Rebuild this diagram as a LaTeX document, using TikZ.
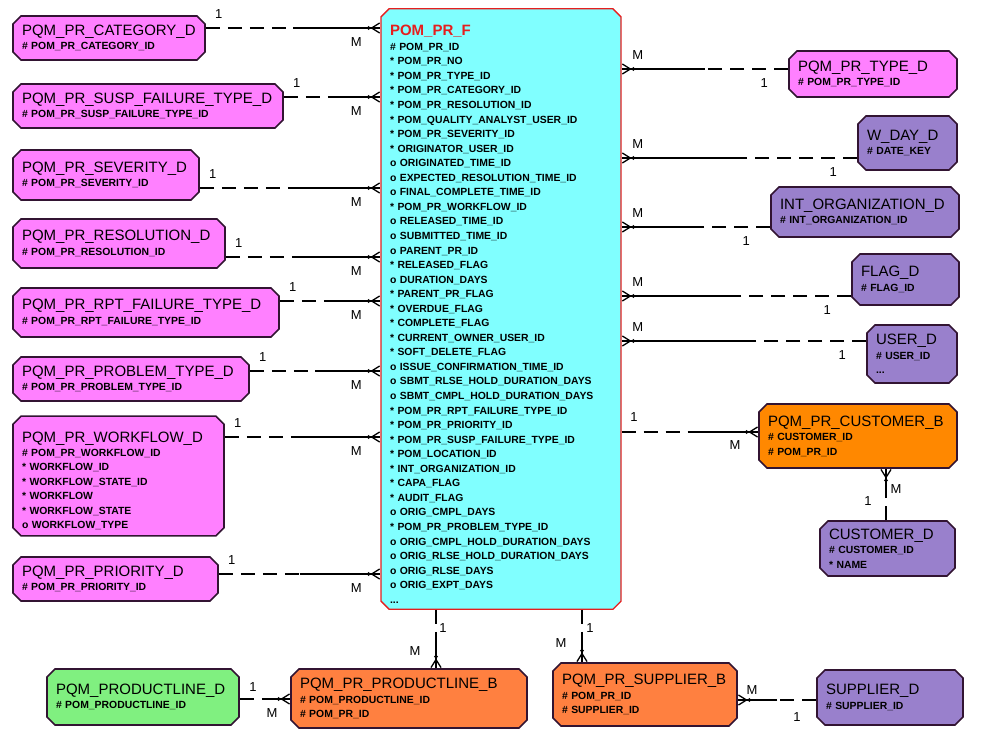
\documentclass[tikz,border=0pt]{standalone}
\usepackage{xcolor}
\usepackage{fontspec}
\setmainfont{Liberation Sans}
\usepackage{tikz}
\usetikzlibrary{shapes.misc}
\usetikzlibrary{arrows.meta}
\usetikzlibrary{calc}

\definecolor{dimpink}{RGB}{255,128,255}
\definecolor{factcyan}{RGB}{128,255,255}
\definecolor{dimpurple}{RGB}{153,128,204}
\definecolor{bridgeorange}{RGB}{255,128,64}
\definecolor{custorange}{RGB}{255,136,0}
\definecolor{dimgreen}{RGB}{128,240,128}
\definecolor{edgedark}{RGB}{50,20,50}
\definecolor{factred}{RGB}{230,30,30}

\newcommand{\tabname}[1]{{\fontsize{15}{14.4}\selectfont\mdseries #1}}
\newcommand{\facttitle}[1]{{\fontsize{15}{14.5}\selectfont\color{factred}#1}}

\begin{document}
\begin{tikzpicture}[x=1pt, y=-1pt,
    entity/.style={chamfered rectangle, chamfered rectangle xsep=4pt, chamfered rectangle ysep=4pt,
        draw=edgedark, line width=1.6pt, inner xsep=5pt, inner ysep=2pt, align=left,
        font=\fontsize{10.4}{14.4}\selectfont\bfseries},
    dimtab/.style={entity, fill=dimpink},
    lookup/.style={entity, fill=dimpurple},
    bridge/.style={entity, fill=bridgeorange},
    oneside/.style={line width=1.3pt, dash pattern=on 14pt off 8pt},
    manyside/.style={line width=1.3pt,
        postaction={draw, -{Circle[length=3.5pt] Straight Barb[reversed, length=8pt, width=10pt]}}},
    card/.style={font=\fontsize{13}{13}\selectfont, inner sep=0pt}]
    \useasboundingbox (0,0) rectangle (990,742);

    % Fact table
    \node[entity, fill=factcyan, draw=factred, line width=1.4pt, minimum width=240, minimum height=598,
        text width=222, text height=21, font=\fontsize{10.4}{14.55}\selectfont\bfseries] (f) at (501,309)
        {\facttitle{POM\_PR\_F}\\
        \# POM\_PR\_ID\\
        {*} POM\_PR\_NO\\
        {*} POM\_PR\_TYPE\_ID\\
        {*} POM\_PR\_CATEGORY\_ID\\
        {*} POM\_PR\_RESOLUTION\_ID\\
        {*} POM\_QUALITY\_ANALYST\_USER\_ID\\
        {*} POM\_PR\_SEVERITY\_ID\\
        {*} ORIGINATOR\_USER\_ID\\
        o ORIGINATED\_TIME\_ID\\
        o EXPECTED\_RESOLUTION\_TIME\_ID\\
        o FINAL\_COMPLETE\_TIME\_ID\\
        {*} POM\_PR\_WORKFLOW\_ID\\
        o RELEASED\_TIME\_ID\\
        o SUBMITTED\_TIME\_ID\\
        o PARENT\_PR\_ID\\
        {*} RELEASED\_FLAG\\
        o DURATION\_DAYS\\
        {*} PARENT\_PR\_FLAG\\
        {*} OVERDUE\_FLAG\\
        {*} COMPLETE\_FLAG\\
        {*} CURRENT\_OWNER\_USER\_ID\\
        {*} SOFT\_DELETE\_FLAG\\
        o ISSUE\_CONFIRMATION\_TIME\_ID\\
        o SBMT\_RLSE\_HOLD\_DURATION\_DAYS\\
        o SBMT\_CMPL\_HOLD\_DURATION\_DAYS\\
        {*} POM\_PR\_RPT\_FAILURE\_TYPE\_ID\\
        {*} POM\_PR\_PRIORITY\_ID\\
        {*} POM\_PR\_SUSP\_FAILURE\_TYPE\_ID\\
        {*} POM\_LOCATION\_ID\\
        {*} INT\_ORGANIZATION\_ID\\
        {*} CAPA\_FLAG\\
        {*} AUDIT\_FLAG\\
        o ORIG\_CMPL\_DAYS\\
        {*} POM\_PR\_PROBLEM\_TYPE\_ID\\
        o ORIG\_CMPL\_HOLD\_DURATION\_DAYS\\
        o ORIG\_RLSE\_HOLD\_DURATION\_DAYS\\
        o ORIG\_RLSE\_DAYS\\
        o ORIG\_EXPT\_DAYS\\
        ...};

    % Left dimensions
    \node[dimtab, minimum width=192, minimum height=44, text width=174] (cat) at (109,38)
        {\tabname{PQM\_PR\_CATEGORY\_D}\\ \# POM\_PR\_CATEGORY\_ID};
    \node[dimtab, minimum width=270, minimum height=44, text width=252] (susp) at (148,106)
        {\tabname{PQM\_PR\_SUSP\_FAILURE\_TYPE\_D}\\ \# POM\_PR\_SUSP\_FAILURE\_TYPE\_ID};
    \node[dimtab, minimum width=186, minimum height=50, text width=168] (sev) at (106,175)
        {\tabname{PQM\_PR\_SEVERITY\_D}\\ \# POM\_PR\_SEVERITY\_ID};
    \node[dimtab, minimum width=212, minimum height=49, text width=194] (res) at (119,243.5)
        {\tabname{PQM\_PR\_RESOLUTION\_D}\\ \# POM\_PR\_RESOLUTION\_ID};
    \node[dimtab, minimum width=266, minimum height=49, text width=248] (rpt) at (146,312.5)
        {\tabname{PQM\_PR\_RPT\_FAILURE\_TYPE\_D}\\ \# POM\_PR\_RPT\_FAILURE\_TYPE\_ID};
    \node[dimtab, minimum width=236, minimum height=44, text width=218] (prob) at (131,379)
        {\tabname{PQM\_PR\_PROBLEM\_TYPE\_D}\\ \# POM\_PR\_PROBLEM\_TYPE\_ID};
    \node[dimtab, minimum width=211, minimum height=116, text width=193, text height=20] (wf) at (118.5,476)
        {\tabname{PQM\_PR\_WORKFLOW\_D}\\ \# POM\_PR\_WORKFLOW\_ID\\ {*} WORKFLOW\_ID\\
        {*} WORKFLOW\_STATE\_ID\\ {*} WORKFLOW\\ {*} WORKFLOW\_STATE\\ o WORKFLOW\_TYPE};
    \node[dimtab, minimum width=205, minimum height=44, text width=187] (prio) at (115.5,579)
        {\tabname{PQM\_PR\_PRIORITY\_D}\\ \# POM\_PR\_PRIORITY\_ID};

    % Right dimensions
    \node[dimtab, minimum width=168, minimum height=46, text width=150] (type) at (873,74)
        {\tabname{PQM\_PR\_TYPE\_D}\\ \# POM\_PR\_TYPE\_ID};
    \node[lookup, minimum width=99, minimum height=54, text width=81] (wday) at (907.5,143)
        {\tabname{W\_DAY\_D}\\ \# DATE\_KEY};
    \node[lookup, minimum width=188, minimum height=50, text width=170] (intorg) at (865,212)
        {\tabname{INT\_ORGANIZATION\_D}\\ \# INT\_ORGANIZATION\_ID};
    \node[lookup, minimum width=107, minimum height=51, text width=89] (flag) at (905.5,279.5)
        {\tabname{FLAG\_D}\\ \# FLAG\_ID};
    \node[lookup, minimum width=90, minimum height=58, text width=72] (user) at (912,354)
        {\tabname{USER\_D}\\ \# USER\_ID\\ ...};
    \node[entity, fill=custorange, minimum width=198, minimum height=64, text width=180] (custb) at (858,436)
        {\tabname{PQM\_PR\_CUSTOMER\_B}\\ \# CUSTOMER\_ID\\ \# POM\_PR\_ID};
    \node[lookup, minimum width=135, minimum height=55, text width=117] (custd) at (887.5,548.5)
        {\tabname{CUSTOMER\_D}\\ \# CUSTOMER\_ID\\ {*} NAME};

    % Bottom row
    \node[entity, fill=dimgreen, minimum width=192, minimum height=56, text width=174] (pld) at (143,697)
        {\tabname{PQM\_PRODUCTLINE\_D}\\ \# POM\_PRODUCTLINE\_ID};
    \node[bridge, minimum width=236, minimum height=59, text width=218] (plb) at (409,698.5)
        {\tabname{PQM\_PR\_PRODUCTLINE\_B}\\ \# POM\_PRODUCTLINE\_ID\\ \# POM\_PR\_ID};
    \node[bridge, minimum width=184, minimum height=63, text width=166] (supb) at (645,694.5)
        {\tabname{PQM\_PR\_SUPPLIER\_B}\\ \# POM\_PR\_ID\\ \# SUPPLIER\_ID};
    \node[lookup, minimum width=146, minimum height=55, text width=128] (supd) at (890,697.5)
        {\tabname{SUPPLIER\_D}\\ \# SUPPLIER\_ID};

    % Left links
    \foreach \tb/\y in {cat/28, susp/97, sev/188, res/257, rpt/301, prob/371, wf/437, prio/574} {
        \draw[oneside] (\tb.east |- 0,\y) -- ($(\tb.east |- 0,\y)!.5!(f.west |- 0,\y)$) coordinate (m\tb);
        \draw[manyside] (m\tb) -- (f.west |- 0,\y);
        \node[card] (one\tb) at ($(\tb.east |- 0,\y)+(13,-14)$) {1};
        \node[card] (many\tb) at ($(f.west |- 0,\y)+(-24,14)$) {M};
    }

    % Right links
    \foreach \tb/\y in {type/69, wday/158, intorg/227, flag/296, user/341} {
        \draw[oneside] (\tb.west |- 0,\y) -- ($(\tb.west |- 0,\y)!.5!(f.east |- 0,\y)$) coordinate (m\tb);
        \draw[manyside] (m\tb) -- (f.east |- 0,\y);
        \node[card] (one\tb) at ($(\tb.west |- 0,\y)+(-24,14)$) {1};
        \node[card] (many\tb) at ($(f.east |- 0,\y)+(16,-14)$) {M};
    }

    % Customer bridge
    \draw[oneside] (f.east |- 0,432) -- ($(f.east |- 0,432)!.5!(custb.west |- 0,432)$) coordinate (mcustb);
    \draw[manyside] (mcustb) -- (custb.west |- 0,432);
    \node[card] (onecustb) at (634,417) {1};
    \node[card] (manycustb) at (735,445) {M};
    \draw[oneside] (custd.north -| 886,0) -- ($(custd.north -| 886,0)!.5!(custb.south -| 886,0)$) coordinate (mcustd);
    \draw[manyside] (mcustd) -- (custb.south -| 886,0);
    \node[card] (onecustd) at (868,501) {1};
    \node[card] (manycustd) at (896,489) {M};

    % Productline bridge
    \draw[oneside] (f.south -| 436,0) -- ($(f.south -| 436,0)!.5!(plb.north -| 436,0)$) coordinate (mplb);
    \draw[manyside] (mplb) -- (plb.north -| 436,0);
    \node[card] (oneplb) at (443,628) {1};
    \node[card] (manyplb) at (415,651) {M};
    \draw[oneside] (pld.east |- 0,699) -- ($(pld.east |- 0,699)!.5!(plb.west |- 0,699)$) coordinate (mpld);
    \draw[manyside] (mpld) -- (plb.west |- 0,699);
    \node[card] (onepld) at (253,687) {1};
    \node[card] (manypld) at (272,713) {M};

    % Supplier bridge
    \draw[oneside] (f.south -| 582,0) -- ($(f.south -| 582,0)!.5!(supb.north -| 582,0)$) coordinate (msupb);
    \draw[manyside] (msupb) -- (supb.north -| 582,0);
    \node[card] (onesupb) at (590,628) {1};
    \node[card] (manysupb) at (561,643) {M};
    \draw[oneside] (supd.west |- 0,700) -- ($(supd.west |- 0,700)!.5!(supb.east |- 0,700)$) coordinate (msupd);
    \draw[manyside] (msupd) -- (supb.east |- 0,700);
    \node[card] (onesupd) at (797,717) {1};
    \node[card] (manysupd) at (752,690) {M};
\end{tikzpicture}
\end{document}
